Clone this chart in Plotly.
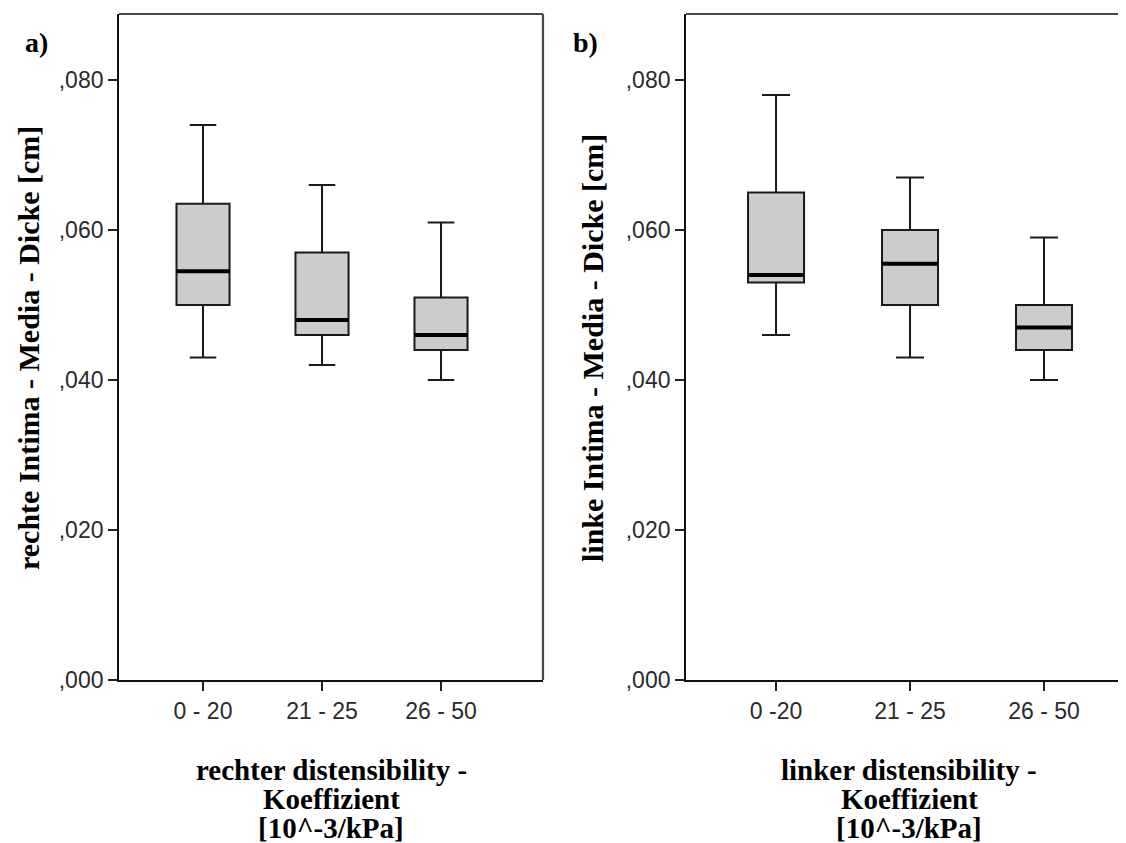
import plotly.graph_objects as go

# Data
cats_right = ["0 - 20", "21 - 25", "26 - 50"]
cats_left = ["0 -20", "21 - 25", "26 - 50"]
y_ticks = [0.0, 0.02, 0.04, 0.06, 0.08]
y_ticktext = [",000", ",020", ",040", ",060", ",080"]

# panel a) rechte
a_low = [0.043, 0.042, 0.040]
a_q1 = [0.050, 0.046, 0.044]
a_med = [0.0545, 0.048, 0.046]
a_q3 = [0.0635, 0.057, 0.051]
a_high = [0.074, 0.066, 0.061]

# panel b) linke
b_low = [0.046, 0.043, 0.040]
b_q1 = [0.053, 0.050, 0.044]
b_med = [0.054, 0.0555, 0.047]
b_q3 = [0.065, 0.060, 0.050]
b_high = [0.078, 0.067, 0.059]

pos = [0, 1, 2]
wa, wb = 0.446, 0.418

W, H = 1118, 835
OFF = 8  # page offset of the figure

def px(x):
    return (x - OFF) / W

def py(y):
    return (680 - y) / 666

fig = go.Figure()

def add_panel(xa, ya, low, q1, med, q3, high, w):
    fig.add_trace(go.Box(
        x=pos, lowerfence=low, q1=q1, median=med, q3=q3, upperfence=high,
        width=w, whiskerwidth=0.5, fillcolor="#cccccc",
        line=dict(color="#1a1a1a", width=2), boxpoints=False,
        xaxis=xa, yaxis=ya, showlegend=False, hoverinfo="skip"))
    mx, my = [], []
    for p, m in zip(pos, med):
        mx += [p - w / 2, p + w / 2, None]
        my += [m, m, None]
    fig.add_trace(go.Scatter(x=mx, y=my, mode="lines",
                             line=dict(color="black", width=4),
                             xaxis=xa, yaxis=ya, showlegend=False, hoverinfo="skip"))

add_panel("x", "y", a_low, a_q1, a_med, a_q3, a_high, wa)
add_panel("x2", "y2", b_low, b_q1, b_med, b_q3, b_high, wb)

tickfont = dict(family="Liberation Sans, Arial", size=23, color="#2a2a2a")
axline = dict(showline=True, linecolor="#111", linewidth=1.8, ticks="outside",
              ticklen=9, tickwidth=2, tickcolor="#222", showgrid=False,
              zeroline=False, tickfont=tickfont, automargin=False, mirror=False)

fig.update_layout(
    width=W, height=H,
    margin=dict(l=0, r=0, t=6, b=H - 6 - 666, pad=0),
    paper_bgcolor="white", plot_bgcolor="white",
    xaxis=dict(domain=[px(119), px(543)], range=[-0.706, 2.857], tickvals=pos,
               ticktext=cats_right, anchor="y", **axline),
    yaxis=dict(domain=[0, 1], range=[0, 0.0888], tickvals=y_ticks,
               ticktext=y_ticktext, anchor="x", **axline),
    xaxis2=dict(domain=[px(686), 1.0], range=[-0.672, 2.612], tickvals=pos,
                ticktext=cats_left, anchor="y2", **axline),
    yaxis2=dict(domain=[0, 1], range=[0, 0.0888], tickvals=y_ticks,
                ticktext=y_ticktext, anchor="x2", **axline),
)

# grey frame lines (top / right) as in the reference
border = dict(color="#4a4a4a", width=2.2)
fig.add_shape(type="line", xref="x domain", yref="y domain", x0=0, x1=1, y0=1, y1=1, line=border)
fig.add_shape(type="line", xref="x domain", yref="y domain", x0=1, x1=1, y0=0, y1=1, line=border)
fig.add_shape(type="line", xref="x2 domain", yref="y2 domain", x0=0, x1=1, y0=1, y1=1, line=border)

def serif(size):
    return dict(family="Liberation Serif, Times New Roman", size=size, color="black")

def note(text, x, y, size, angle=0):
    return dict(text=text, x=px(x), y=py(y), xref="paper", yref="paper",
                xanchor="center", yanchor="middle", textangle=angle,
                showarrow=False, font=serif(size))

ann = [
    note("<b>a)</b>", 36, 43, 28),
    note("<b>b)</b>", 586, 43, 28),
    note("<b>rechte Intima - Media - Dicke [cm]</b>", 28, 348, 30, -90),
    note("<b>linke Intima - Media - Dicke [cm]</b>", 592, 348, 30, -90),
]
for cx, lines in [(331, ["rechter distensibility -", "Koeffizient", "[10^-3/kPa]"]),
                  (909, ["linker distensibility -", "Koeffizient", "[10^-3/kPa]"])]:
    for i, t in enumerate(lines):
        ann.append(note("<b>" + t + "</b>", cx, 770 + 29 * i, 29))
fig.update_layout(annotations=ann)

fig.write_html("out.html")
